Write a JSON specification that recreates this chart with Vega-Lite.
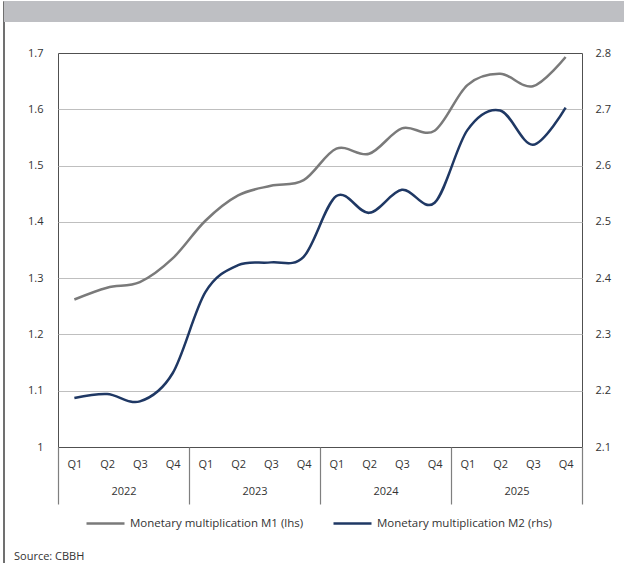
{
  "$schema": "https://vega.github.io/schema/vega-lite/v6.json",
  "background": "white",
  "padding": {"left": 2, "top": 0, "right": 0, "bottom": 0},
  "bounds": "flush",
  "spacing": 0,
  "config": {
    "font": "Open Sans",
    "axis": {"labelFont": "Open Sans", "labelColor": "#333333", "labelFontSize": 11},
    "legend": {"labelFont": "Open Sans", "labelColor": "#333333"},
    "title": {"font": "Open Sans"}
  },
  "hconcat": [
    {
      "width": 1,
      "height": 563,
      "data": {"values": []},
      "mark": {"type": "rule"},
      "encoding": {},
      "view": {"stroke": "#707070", "fill": null}
    },
    {
      "bounds": "flush",
      "spacing": 31,
      "vconcat": [
        {
          "width": 620,
          "height": 21,
          "data": {"values": []},
          "mark": {"type": "rule"},
          "encoding": {},
          "view": {"fill": "#bebfc3", "stroke": null}
        },
        {
          "bounds": "flush",
          "spacing": 0,
          "hconcat": [
            {
              "width": 54,
              "height": 394,
              "data": {"values": []},
              "mark": {"type": "rule"},
              "encoding": {},
              "view": {"stroke": null, "fill": null}
            },
            {
              "width": 524,
              "height": 394,
              "view": {"stroke": "#505050", "strokeWidth": 1},
              "title": {
                "text": "Source: CBBH",
                "orient": "bottom",
                "anchor": "start",
                "frame": "group",
                "dx": -44,
                "offset": 46,
                "fontSize": 11,
                "fontWeight": "normal",
                "color": "#333333"
              },
              "layer": [
                {
                  "data": {
                    "values": [
                      {"period": "2022 Q1", "m1": 1.262, "m2": 2.187},
                      {"period": "2022 Q2", "m1": 1.283, "m2": 2.194},
                      {"period": "2022 Q3", "m1": 1.293, "m2": 2.181},
                      {"period": "2022 Q4", "m1": 1.335, "m2": 2.231},
                      {"period": "2023 Q1", "m1": 1.402, "m2": 2.375},
                      {"period": "2023 Q2", "m1": 1.447, "m2": 2.423},
                      {"period": "2023 Q3", "m1": 1.464, "m2": 2.428},
                      {"period": "2023 Q4", "m1": 1.474, "m2": 2.438},
                      {"period": "2024 Q1", "m1": 1.530, "m2": 2.546},
                      {"period": "2024 Q2", "m1": 1.521, "m2": 2.516},
                      {"period": "2024 Q3", "m1": 1.566, "m2": 2.557},
                      {"period": "2024 Q4", "m1": 1.562, "m2": 2.534},
                      {"period": "2025 Q1", "m1": 1.643, "m2": 2.663},
                      {"period": "2025 Q2", "m1": 1.663, "m2": 2.698},
                      {"period": "2025 Q3", "m1": 1.641, "m2": 2.637},
                      {"period": "2025 Q4", "m1": 1.693, "m2": 2.703}
                    ]
                  },
                  "layer": [
                    {
                      "mark": {"type": "line", "interpolate": "cardinal", "strokeWidth": 2.5},
                      "encoding": {
                        "x": {
                          "field": "period",
                          "type": "ordinal",
                          "scale": {"type": "point", "padding": 0.5},
                          "axis": {
                            "orient": "bottom",
                            "labelExpr": "slice(datum.label, 5)",
                            "ticks": false,
                            "domain": false,
                            "grid": false,
                            "labelAngle": 0,
                            "labelPadding": 11,
                            "title": null
                          }
                        },
                        "y": {
                          "field": "m1",
                          "type": "quantitative",
                          "scale": {"domain": [1, 1.7], "nice": false, "zero": false},
                          "axis": {
                            "orient": "left",
                            "values": [1, 1.1, 1.2, 1.3, 1.4, 1.5, 1.6, 1.7],
                            "format": ".1~f",
                            "ticks": false,
                            "domain": false,
                            "labelPadding": 15,
                            "grid": true,
                            "gridColor": "#bfbfbf",
                            "gridOpacity": {"condition": {"test": "datum.value < 1.05 || datum.value > 1.65", "value": 0}, "value": 1},
                            "title": null
                          }
                        },
                        "color": {
                          "datum": "Monetary multiplication M1 (lhs)",
                          "type": "nominal",
                          "scale": {
                            "domain": ["Monetary multiplication M1 (lhs)", "Monetary multiplication M2 (rhs)"],
                            "range": ["#7a7a7a", "#1f3864"]
                          },
                          "legend": {
                            "orient": "none",
                            "legendX": 82,
                            "legendY": 502,
                            "direction": "horizontal",
                            "symbolType": "stroke",
                            "symbolSize": 1444,
                            "symbolStrokeWidth": 2.5,
                            "labelFontSize": 11.5,
                            "labelOffset": 4,
                            "labelLimit": 400,
                            "columnPadding": 24,
                            "title": null
                          }
                        }
                      }
                    },
                    {
                      "mark": {"type": "line", "interpolate": "cardinal", "strokeWidth": 2.5},
                      "encoding": {
                        "x": {
                          "field": "period",
                          "type": "ordinal",
                          "axis": {
                            "orient": "bottom",
                            "labelExpr": "slice(datum.label, 5)",
                            "ticks": false,
                            "domain": false,
                            "grid": false,
                            "labelAngle": 0,
                            "labelPadding": 11,
                            "title": null
                          }
                        },
                        "y": {
                          "field": "m2",
                          "type": "quantitative",
                          "scale": {"domain": [2.1, 2.8], "nice": false, "zero": false},
                          "axis": {
                            "orient": "right",
                            "values": [2.1, 2.2, 2.3, 2.4, 2.5, 2.6, 2.7, 2.8],
                            "format": ".1~f",
                            "ticks": false,
                            "domain": false,
                            "grid": false,
                            "labelPadding": 13,
                            "title": null
                          }
                        },
                        "color": {"datum": "Monetary multiplication M2 (rhs)", "type": "nominal"}
                      }
                    }
                  ],
                  "resolve": {"scale": {"y": "independent"}}
                },
                {
                  "data": {"values": [{"year": "2022"}, {"year": "2023"}, {"year": "2024"}, {"year": "2025"}]},
                  "mark": {"type": "rule", "opacity": 0},
                  "encoding": {
                    "x": {
                      "field": "year",
                      "type": "ordinal",
                      "scale": {"type": "band", "paddingInner": 0, "paddingOuter": 0},
                      "axis": {
                        "orient": "bottom",
                        "tickBand": "extent",
                        "tickSize": 57,
                        "tickColor": "#7f7f7f",
                        "tickWidth": 1.2,
                        "domain": false,
                        "grid": false,
                        "labelAngle": 0,
                        "labelPadding": -19,
                        "title": null
                      }
                    }
                  }
                }
              ],
              "resolve": {"scale": {"x": "independent"}, "axis": {"x": "independent"}}
            }
          ]
        }
      ]
    }
  ]
}
